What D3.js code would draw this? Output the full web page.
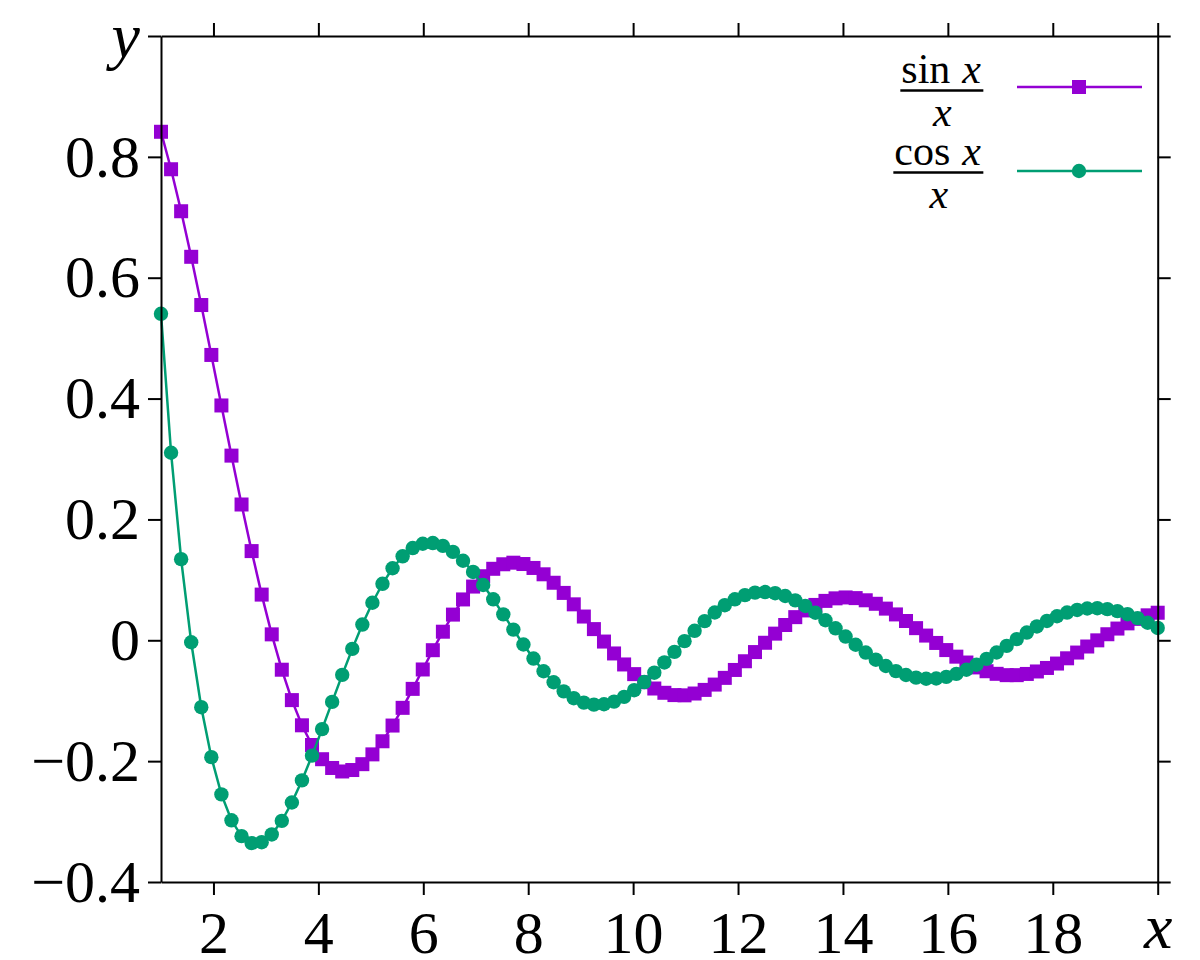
<!DOCTYPE html>
<html>
<head>
<meta charset="utf-8">
<script src="https://cdn.jsdelivr.net/npm/d3@7"></script>
<style>
  body { margin: 0; background: #fff; }
  svg { display: block; }
  text { font-family: "Liberation Serif", "DejaVu Serif", serif; fill: #000; }
</style>
</head>
<body>
<div id="chart-container"></div>
<script>
var xs = [
  1.0000, 1.1919, 1.3838, 1.5758, 1.7677, 1.9596, 2.1515, 2.3434, 2.5354, 2.7273,
  2.9192, 3.1111, 3.3030, 3.4949, 3.6869, 3.8788, 4.0707, 4.2626, 4.4545, 4.6465,
  4.8384, 5.0303, 5.2222, 5.4141, 5.6061, 5.7980, 5.9899, 6.1818, 6.3737, 6.5657,
  6.7576, 6.9495, 7.1414, 7.3333, 7.5253, 7.7172, 7.9091, 8.1010, 8.2929, 8.4848,
  8.6768, 8.8687, 9.0606, 9.2525, 9.4444, 9.6364, 9.8283, 10.0202, 10.2121, 10.4040,
  10.5960, 10.7879, 10.9798, 11.1717, 11.3636, 11.5556, 11.7475, 11.9394, 12.1313, 12.3232,
  12.5152, 12.7071, 12.8990, 13.0909, 13.2828, 13.4747, 13.6667, 13.8586, 14.0505, 14.2424,
  14.4343, 14.6263, 14.8182, 15.0101, 15.2020, 15.3939, 15.5859, 15.7778, 15.9697, 16.1616,
  16.3535, 16.5455, 16.7374, 16.9293, 17.1212, 17.3131, 17.5051, 17.6970, 17.8889, 18.0808,
  18.2727, 18.4646, 18.6566, 18.8485, 19.0404, 19.2323, 19.4242, 19.6162, 19.8081, 20.0000
]

var sinOverX = [
  0.8415, 0.7795, 0.7100, 0.6346, 0.5548, 0.4722, 0.3886, 0.3056, 0.2247, 0.1476,
  0.0756, 0.0098, -0.0487, -0.0990, -0.1407, -0.1733, -0.1968, -0.2113, -0.2171, -0.2147,
  -0.2050, -0.1888, -0.1671, -0.1411, -0.1118, -0.0804, -0.0483, -0.0164, 0.0142, 0.0425,
  0.0676, 0.0889, 0.1060, 0.1183, 0.1258, 0.1284, 0.1262, 0.1197, 0.1092, 0.0952,
  0.0784, 0.0595, 0.0393, 0.0185, -0.0021, -0.0218, -0.0400, -0.0560, -0.0694, -0.0798,
  -0.0869, -0.0907, -0.0911, -0.0881, -0.0821, -0.0733, -0.0622, -0.0491, -0.0347, -0.0195,
  -0.0041, 0.0110, 0.0253, 0.0383, 0.0494, 0.0585, 0.0652, 0.0694, 0.0709, 0.0698,
  0.0662, 0.0604, 0.0524, 0.0428, 0.0319, 0.0201, 0.0078, -0.0044, -0.0162, -0.0271,
  -0.0368, -0.0449, -0.0512, -0.0555, -0.0577, -0.0577, -0.0557, -0.0516, -0.0458, -0.0385,
  -0.0298, -0.0203, -0.0103, -0.0001, 0.0100, 0.0194, 0.0280, 0.0354, 0.0413, 0.0456
]

var cosOverX = [
  0.5403, 0.3103, 0.1343, -0.0032, -0.1107, -0.1934, -0.2550, -0.2979, -0.3241, -0.3356,
  -0.3341, -0.3213, -0.2988, -0.2684, -0.2319, -0.1909, -0.1470, -0.1020, -0.0572, -0.0142,
  0.0260, 0.0621, 0.0935, 0.1192, 0.1390, 0.1526, 0.1598, 0.1609, 0.1563, 0.1463,
  0.1316, 0.1131, 0.0915, 0.0678, 0.0429, 0.0177, -0.0070, -0.0302, -0.0512, -0.0695,
  -0.0845, -0.0958, -0.1031, -0.1065, -0.1059, -0.1015, -0.0936, -0.0826, -0.0691, -0.0536,
  -0.0367, -0.0191, -0.0014, 0.0157, 0.0317, 0.0460, 0.0581, 0.0678, 0.0748, 0.0788,
  0.0798, 0.0779, 0.0733, 0.0661, 0.0568, 0.0456, 0.0332, 0.0198, 0.0062, -0.0074,
  -0.0203, -0.0321, -0.0425, -0.0510, -0.0575, -0.0618, -0.0637, -0.0632, -0.0605, -0.0556,
  -0.0488, -0.0405, -0.0308, -0.0202, -0.0092, 0.0020, 0.0128, 0.0229, 0.0320, 0.0398,
  0.0459, 0.0502, 0.0526, 0.0531, 0.0516, 0.0482, 0.0432, 0.0367, 0.0290, 0.0204
]

var xTicks = [2, 4, 6, 8, 10, 12, 14, 16, 18, 20]
var yTicks = [-0.4, -0.2, 0, 0.2, 0.4, 0.6, 0.8, 1.0]
var xAxisName = "x"
var yAxisName = "y"
var legendFuncs = ["sin", "cos"]
var seriesColors = ["#9400D3", "#009E73"]
var seriesMarkers = ["square", "circle"]

var W = 1200, H = 960
var margin = {top: 36, right: 42.3, bottom: 78, left: 161}

var xScale = d3.scaleLinear()
  .domain([1, 20])
  .range([margin.left, W - margin.right])

var yScale = d3.scaleLinear()
  .domain([-0.4, 1.0])
  .range([H - margin.bottom, margin.top])

var svg = d3.select('#chart-container')
  .append('svg')
  .attr('width', W)
  .attr('height', H)

var numFmt = d3.format('.1f')
function yLabel(d) {
  if (Math.abs(d - 1) < 1e-9) return yAxisName
  if (d === 0) return '0'
  return numFmt(d)
}
function xLabel(d) {
  return d === 20 ? xAxisName : String(d)
}

function styleAxis(g) {
  g.selectAll('path.domain').attr('stroke', '#000').attr('stroke-width', 2)
  g.selectAll('.tick line').attr('stroke', '#000').attr('stroke-width', 2)
  g.selectAll('.tick text')
    .attr('fill', '#000')
    .style('font-family', '"Liberation Serif", serif')
    .style('font-size', '60px')
}

/* series first, so the frame sits on top */
var plot = svg.append('g')

var line = d3.line()
  .x(function(d) { return xScale(d[0]) })
  .y(function(d) { return yScale(d[1]) })

var series = [sinOverX, cosOverX]
series.forEach(function(vals, k) {
  var pts = xs.map(function(x, i) { return [x, vals[i]] })
  plot.append('path')
    .datum(pts)
    .attr('fill', 'none')
    .attr('stroke', seriesColors[k])
    .attr('stroke-width', 2.5)
    .attr('d', line)

  if (seriesMarkers[k] === 'square') {
    plot.append('g').selectAll('rect')
      .data(pts)
      .enter().append('rect')
      .attr('x', function(d) { return xScale(d[0]) - 7 })
      .attr('y', function(d) { return yScale(d[1]) - 7 })
      .attr('width', 14)
      .attr('height', 14)
      .attr('fill', seriesColors[k])
  } else {
    plot.append('g').selectAll('circle')
      .data(pts)
      .enter().append('circle')
      .attr('cx', function(d) { return xScale(d[0]) })
      .attr('cy', function(d) { return yScale(d[1]) })
      .attr('r', 7.2)
      .attr('fill', seriesColors[k])
  }
})

/* axes: ticks outward on all four sides */
var gLeft = svg.append('g')
  .attr('transform', 'translate(' + margin.left + ',0)')
  .call(d3.axisLeft(yScale).tickValues(yTicks).tickSize(13).tickSizeOuter(0)
    .tickPadding(8).tickFormat(yLabel))
styleAxis(gLeft)

var gBottom = svg.append('g')
  .attr('transform', 'translate(0,' + (H - margin.bottom) + ')')
  .call(d3.axisBottom(xScale).tickValues(xTicks).tickSize(13).tickSizeOuter(0)
    .tickPadding(15).tickFormat(xLabel))
styleAxis(gBottom)

var gTop = svg.append('g')
  .attr('transform', 'translate(0,' + margin.top + ')')
  .call(d3.axisTop(xScale).tickValues(xTicks).tickSize(13).tickSizeOuter(0)
    .tickFormat(''))
styleAxis(gTop)

var gRight = svg.append('g')
  .attr('transform', 'translate(' + (W - margin.right) + ',0)')
  .call(d3.axisRight(yScale).tickValues(yTicks).tickSize(13).tickSizeOuter(0)
    .tickFormat(''))
styleAxis(gRight)

// axis names sit in place of the last tick label, in italics
gLeft.selectAll('.tick text')
  .filter(function(d) { return Math.abs(d - 1) < 1e-9 })
  .style('font-style', 'italic').style('font-size', '64px')
gBottom.selectAll('.tick text')
  .filter(function(d) { return d === 20 })
  .attr('dy', '0.6em')
  .style('font-style', 'italic').style('font-size', '64px')

/* legend: fraction label, sample line, marker */
var legend = svg.append('g')
var rowY = [87, 171]
var barY = [90.5, 172.5]
legendFuncs.forEach(function(fn, k) {
  var cy = rowY[k]
  var num = legend.append('text')
    .attr('x', 981)
    .attr('y', barY[k] - 7.5)
    .attr('text-anchor', 'end')
    .style('font-size', '42px')
  num.append('tspan').text(fn)
  num.append('tspan').attr('dx', 12).style('font-style', 'italic').text(xAxisName)

  var bb = num.node().getBBox()
  legend.append('line')
    .attr('x1', bb.x - 1).attr('x2', bb.x + bb.width + 2)
    .attr('y1', barY[k]).attr('y2', barY[k])
    .attr('stroke', '#000').attr('stroke-width', 2.6)

  legend.append('text')
    .attr('x', bb.x + bb.width / 2 + 1)
    .attr('y', barY[k] + 35)
    .attr('text-anchor', 'middle')
    .style('font-size', '42px')
    .style('font-style', 'italic')
    .text(xAxisName)

  legend.append('line')
    .attr('x1', 1017).attr('x2', 1142)
    .attr('y1', cy).attr('y2', cy)
    .attr('stroke', seriesColors[k]).attr('stroke-width', 2.5)

  if (seriesMarkers[k] === 'square') {
    legend.append('rect')
      .attr('x', 1079 - 7).attr('y', cy - 7)
      .attr('width', 14).attr('height', 14)
      .attr('fill', seriesColors[k])
  } else {
    legend.append('circle')
      .attr('cx', 1079).attr('cy', cy).attr('r', 7.2)
      .attr('fill', seriesColors[k])
  }
})
</script>
</body>
</html>
